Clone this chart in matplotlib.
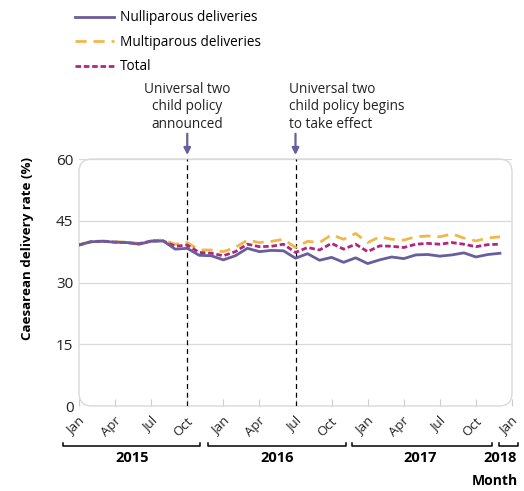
import matplotlib
matplotlib.use("Agg")
import matplotlib.pyplot as plt
import numpy as np
from matplotlib.patches import FancyBboxPatch

plt.rcParams["font.family"] = ["Open Sans", "DejaVu Sans"]

# monthly rates, Jan 2015 .. Dec 2017
MONTHS = np.arange(36)
NULLIPAROUS = [39.1, 39.9, 40.0, 39.8, 39.7, 39.3, 40.0, 40.1, 38.1, 38.3, 36.6, 36.5,
               35.5, 36.5, 38.3, 37.5, 37.8, 37.7, 35.9, 37.0, 35.4, 36.1, 34.9, 36.0,
               34.6, 35.5, 36.2, 35.8, 36.7, 36.8, 36.4, 36.7, 37.2, 36.2, 36.8, 37.1]
MULTIPAROUS = [39.2, 40.0, 40.1, 39.9, 39.8, 39.5, 40.2, 40.3, 39.3, 39.7, 37.9, 37.9,
               37.5, 38.5, 40.3, 39.7, 40.0, 40.5, 38.5, 40.0, 39.7, 41.6, 40.5, 41.9,
               39.7, 41.1, 40.5, 40.3, 41.1, 41.3, 41.1, 41.8, 40.8, 40.1, 40.8, 41.1]
TOTAL = [39.1, 39.9, 40.0, 39.8, 39.7, 39.4, 40.1, 40.1, 38.8, 39.1, 37.3, 37.1,
         36.5, 37.5, 39.3, 38.7, 38.8, 39.3, 37.3, 38.5, 37.9, 39.5, 38.1, 39.3,
         37.5, 38.9, 38.8, 38.5, 39.3, 39.5, 39.3, 39.7, 39.3, 38.7, 39.2, 39.3]

TICK_POS = np.arange(0, 37, 3)
TICK_LABELS = ["Jan", "Apr", "Jul", "Oct"] * 3 + ["Jan"]
YEARS = ["2015", "2016", "2017", "2018"]
EVENTS = [9, 18]
EVENT_TEXT = ["Universal two\nchild policy\nannounced",
              "Universal two\nchild policy begins\nto take effect"]

PURPLE = "#6a5d9b"
ORANGE = "#f0b84a"
MAGENTA = "#b0267e"

fig = plt.figure(figsize=(5.24, 4.91), dpi=100)
ax = fig.add_axes([79 / 524, 1 - 406 / 491, 433 / 524, 247 / 491])

ax.plot(MONTHS, NULLIPAROUS, color=PURPLE, lw=2, label="Nulliparous deliveries", zorder=4)
ax.plot(MONTHS, MULTIPAROUS, color=ORANGE, lw=2, dashes=(4, 2.5),
        label="Multiparous deliveries", zorder=3)
ax.plot(MONTHS, TOTAL, color=MAGENTA, lw=2, dashes=(2, 1),
        label="Total", zorder=3)

for ev in EVENTS:
    ax.axvline(ev, color="black", lw=0.9, ls=(0, (4, 3)), zorder=2)

ax.set_xlim(0, 36)
ax.set_ylim(0, 60)
ax.set_yticks([0, 15, 30, 45, 60])
ax.yaxis.grid(True, color="#d9d9d9", lw=0.9)
ax.set_axisbelow(True)
for s in ax.spines.values():
    s.set_visible(False)
ax.add_patch(FancyBboxPatch((0, 0), 1, 1, boxstyle="round,pad=0,rounding_size=0.03",
                            transform=ax.transAxes, fill=False, ec="#d9d9d9", lw=1.0,
                            mutation_aspect=433 / 247, zorder=1, clip_on=False))
ax.tick_params(axis="y", length=0, labelsize=11, pad=4, colors="#222222")
ax.set_xticks(TICK_POS)
ax.set_xticklabels([])
ax.tick_params(axis="x", direction="in", length=5, color="#cccccc")

for pos, lab in zip(TICK_POS, TICK_LABELS):
    ax.text(pos + 0.3, -3.2, lab, rotation=45, rotation_mode="anchor", ha="right",
            va="center", fontsize=9.5, color="#222222", transform=ax.transData)

# year brackets
trans = ax.get_xaxis_transform()
spans = [(-1.3, 10.1), (10.7, 22.2), (22.7, 34.3), (34.9, 36.5)]
label_x = [4.4, 16.5, 28.4, 35.0]
for (a, b), yr, lx in zip(spans, YEARS, label_x):
    ax.plot([a, a, b, b], [-0.148, -0.160, -0.160, -0.148], color="black", lw=1.1,
            transform=trans, clip_on=False)
    ax.text(lx, -0.21, yr, ha="center", va="center", fontsize=10.5, fontweight="bold",
            transform=trans)
ax.text(36.5, -0.305, "Month", ha="right", va="center", fontsize=10, fontweight="bold",
        transform=trans)

# policy annotations
for ev in EVENTS:
    ax.annotate("", xy=(ev, 60.3), xytext=(ev, 66.8),
                arrowprops=dict(arrowstyle="-|>", color=PURPLE, lw=1.6, mutation_scale=10),
                annotation_clip=False)
ax.text(EVENTS[0], 66.6, EVENT_TEXT[0], ha="center", va="bottom", fontsize=9.8,
        linespacing=1.22, color="#222222")
ax.text(EVENTS[1] - 0.5, 66.6, EVENT_TEXT[1], ha="left", va="bottom", fontsize=9.8,
        linespacing=1.22, color="#222222")

fig.text(28 / 524, 1 - 248 / 491, "Caesarean delivery rate (%)", rotation=90,
         ha="center", va="center", fontsize=9.6, fontweight="bold")

fig.legend(loc="upper left", bbox_to_anchor=(70 / 524, 1 - 5 / 491), frameon=False,
           fontsize=9.8, handlelength=2.8, handletextpad=0.5, labelspacing=0.7,
           borderaxespad=0)

fig.savefig("out.png", dpi=100)
